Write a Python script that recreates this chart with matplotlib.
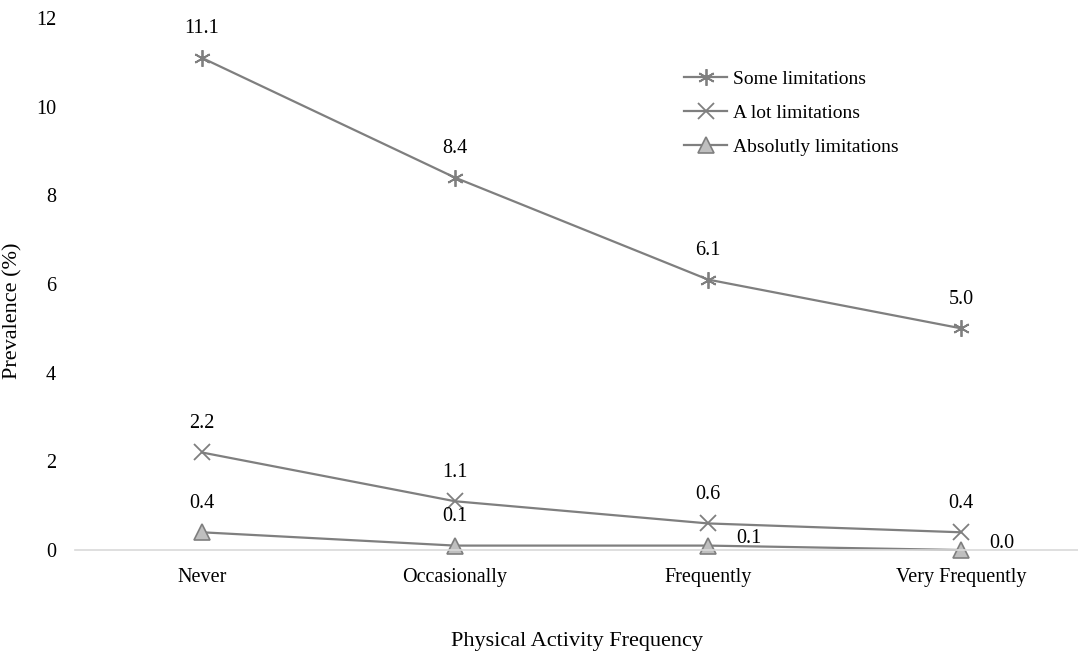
import numpy as np
import matplotlib
matplotlib.use('Agg')
import matplotlib.pyplot as plt

# Dados
categorias = ['Never', 'Occasionally', 'Frequently', 'Very Frequently']
some_lim = [11.1, 8.4, 6.1, 5.0]
lot_lim = [2.2, 1.1, 0.6, 0.4]
abs_lim = [0.4, 0.1, 0.1, 0.0]
y_ticks = [0, 2, 4, 6, 8, 10, 12]

plt.rcParams['font.family'] = ['Liberation Serif', 'DejaVu Serif']

fig = plt.figure(figsize=(10.78, 6.52), dpi=100)
ax = fig.add_axes([0.070, 0.1564, 0.93, 0.816])

cor = '#7f7f7f'
x = np.arange(len(categorias))

ax.plot(x, some_lim, color=cor, lw=1.6, marker=(6, 2, 0), ms=12, mec=cor, mew=1.3,
        label='Some limitations', clip_on=False)
ax.plot(x, lot_lim, color=cor, lw=1.6, marker='x', ms=11, mec=cor, mew=1.3,
        label='A lot limitations', clip_on=False)
ax.plot(x, abs_lim, color=cor, lw=1.6, marker='^', ms=12, mfc='#bfbfbf', mec=cor, mew=1.2,
        label='Absolutly limitations', clip_on=False)

# Rótulos
for serie in (some_lim, lot_lim):
    for xi, v in zip(x, serie):
        ax.annotate(f'{v:.1f}', (xi, v), xytext=(0, 14), textcoords='offset points',
                    ha='center', va='bottom', fontsize=14.5)
for i, (xi, v) in enumerate(zip(x, abs_lim)):
    if i < 2:
        ax.annotate(f'{v:.1f}', (xi, v), xytext=(0, 14), textcoords='offset points',
                    ha='center', va='bottom', fontsize=14.5)
    else:
        ax.annotate(f'{v:.1f}', (xi, v), xytext=(20, 5), textcoords='offset points',
                    ha='left', va='center', fontsize=14.5)

ax.set_xlim(-0.5, 3.462)
ax.set_ylim(0, 12)
ax.set_yticks(y_ticks)
ax.set_xticks(x)
ax.set_xticklabels(categorias)
ax.tick_params(length=0, labelsize=14.5, pad=13)
ax.tick_params(axis='y', pad=14)

for s in ['top', 'right', 'left']:
    ax.spines[s].set_visible(False)
ax.spines['bottom'].set_color('#d9d9d9')
ax.spines['bottom'].set_linewidth(1.2)

ax.set_ylabel('Prevalence (%)', fontsize=16)
ax.yaxis.set_label_coords(-0.053, 0.45)
ax.set_xlabel('Physical Activity Frequency', fontsize=16, labelpad=32)

ax.legend(loc='upper left', bbox_to_anchor=(0.59, 0.935), frameon=False, fontsize=14,
          handlelength=2.2, labelspacing=0.85, handletextpad=0.3)

fig.savefig('out.png', dpi=100)
